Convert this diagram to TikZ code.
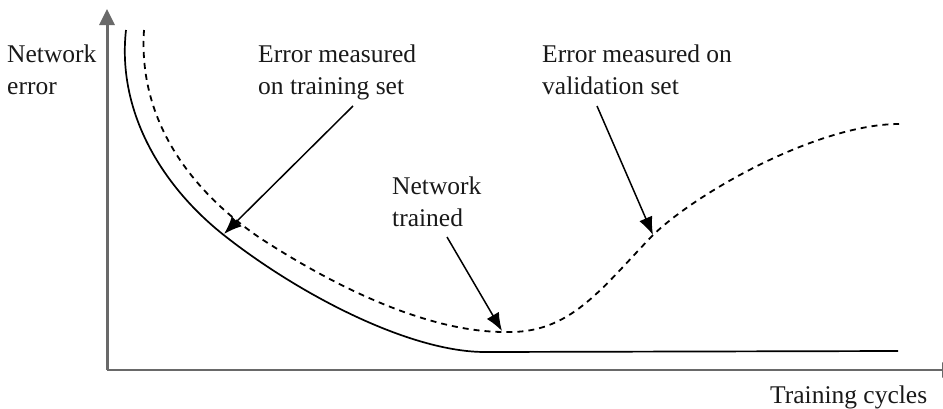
\documentclass[tikz,border=0pt]{standalone}
\usepackage{fontspec}
\setmainfont{Liberation Serif}
\usetikzlibrary{arrows.meta}
\definecolor{axisgray}{RGB}{105,105,105}
\definecolor{inkcol}{RGB}{25,25,25}
\begin{document}
\begin{tikzpicture}[x=1pt,y=-1pt,
  axisline/.style={draw=axisgray,line width=#1,-{Triangle[length=16pt,width=15pt]}},
  label/.style={font=\fontsize{25.5}{31.5}\selectfont,text=inkcol,inner sep=0pt,align=left},
  trainline/.style={line width=1.7pt,draw=black},
  validline/.style={line width=1.8pt,draw=black,dash pattern=on 6pt off 5pt},
  pointer/.style={line width=1.5pt,draw=black,-{Latex[length=18pt,width=14pt]}}]
\useasboundingbox (0,0) rectangle (943,408);
% axes
\coordinate (origin) at (107,370);
\coordinate (ytop) at (107,9);
\coordinate (xend) at (958,370);
\draw[axisline=3pt] (origin) -- (ytop);
\draw[axisline=2pt] (origin) -- (xend);
% labels
\node[label,anchor=north west] (yl) at (7,45) {Network\\error};
\node[label,anchor=north west] (trl) at (258,45) {Error measured\\on training set};
\node[label,anchor=north west] (vl) at (542,45) {Error measured on\\validation set};
\node[label,anchor=north west] (nt) at (392,177) {Network\\trained};
\node[label,anchor=base west] (xl) at (770,403) {Training cycles};
% training curve
\draw[trainline] (126,30) .. controls (117,110) and (160,185) .. (225,236)
  .. controls (300,295) and (410,352) .. (485,352) -- (898,351);
% validation curve
\draw[validline] (144,30) .. controls (138,120) and (190,190) .. (260,238)
  .. controls (340,290) and (430,332) .. (505,332)
  .. controls (570,334) and (600,290) .. (653,235)
  .. controls (700,190) and (820,124) .. (899,124);
% pointers
\coordinate (trs) at (353,106);
\coordinate (trt) at (224,234);
\coordinate (vls) at (597,106);
\coordinate (vlt) at (653,235);
\coordinate (nts) at (447,237);
\coordinate (ntt) at (502,331);
\draw[pointer] (trs) -- (trt);
\draw[pointer] (vls) -- (vlt);
\draw[pointer] (nts) -- (ntt);
\end{tikzpicture}
\end{document}
